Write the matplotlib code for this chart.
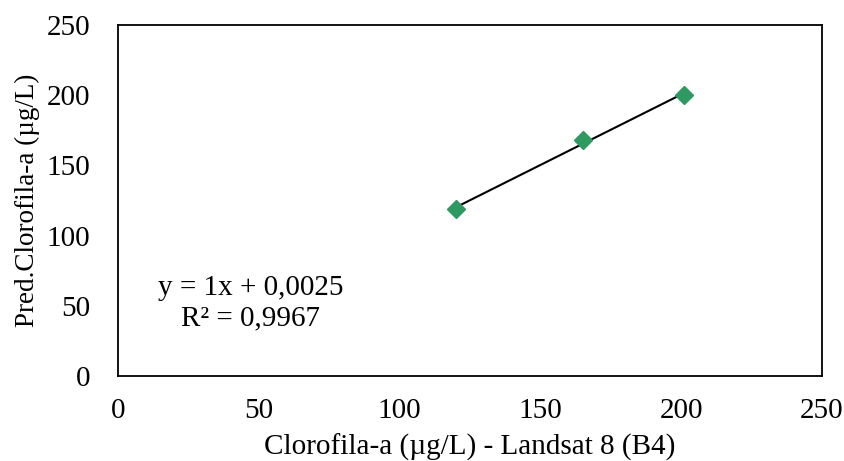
import numpy as np
import matplotlib
matplotlib.use("Agg")
import matplotlib.pyplot as plt

# data
x_landsat = [120, 165, 201]
y_pred = [119, 168, 200]
eq_text = "y = 1x + 0,0025"
r2_text = "R² = 0,9967"
ticks = [0, 50, 100, 150, 200, 250]

plt.rcParams["font.family"] = ["Liberation Serif", "DejaVu Serif"]
fs = 21

fig = plt.figure(figsize=(8.44, 4.61), dpi=100)
ax = fig.add_axes([118 / 844, 1 - 376 / 461, (822 - 118) / 844, (376 - 25) / 461])

xs = np.array(x_landsat, float)
ys = np.array(y_pred, float)
m, b = np.polyfit(xs, ys, 1)
xl = np.array([xs.min(), xs.max()])
ax.plot(xl, m * xl + b, color="black", lw=1.5, zorder=2)
ax.plot(xs, ys, ls="none", marker="D", ms=9, color="#2e9961", zorder=3)

ax.set_xlim(0, 250)
ax.set_ylim(0, 250)
ax.set_xticks(ticks)
ax.set_yticks(ticks)
ax.tick_params(length=0, labelsize=fs)
ax.tick_params(axis="x", pad=16)
ax.tick_params(axis="y", pad=20)
for s in ax.spines.values():
    s.set_linewidth(1.3)

ax.text(47, 63, eq_text, ha="center", va="center", fontsize=fs)
ax.text(47, 41, r2_text, ha="center", va="center", fontsize=fs)

ax.set_xlabel("Clorofila-a (µg/L) - Landsat 8 (B4)", fontsize=fs, labelpad=7)
ax.set_ylabel("Pred.Clorofila-a (µg/L)", fontsize=19.5, labelpad=5)

fig.savefig("out.png", dpi=100)
